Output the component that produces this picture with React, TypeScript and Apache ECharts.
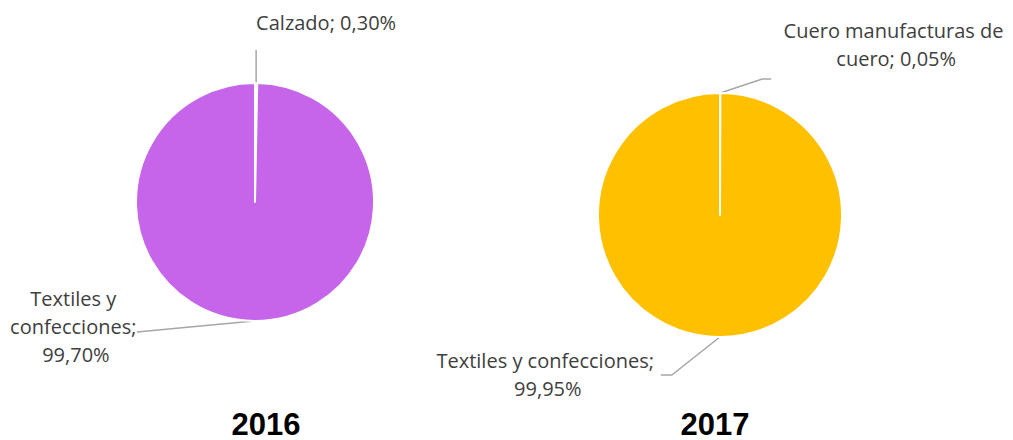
import React, { useEffect, useRef } from "react";
import * as echarts from "echarts";

// ---- data ----
const categories2016 = ["Calzado", "Textiles y confecciones"];
const values2016 = [0.3, 99.7];
const categories2017 = ["Cuero manufacturas de cuero", "Textiles y confecciones"];
const values2017 = [0.05, 99.95];
const years = ["2016", "2017"];

// ---- styling / layout (offsets from each slice's label anchor) ----
type Lay = { dx: number; dy: number; align: string; width: number; line: number[][] };
const lay2016: Lay[] = [
  { dx: 0, dy: -61, align: "left", width: 180, line: [[0, -33], [0, -33]] },
  { dx: -178, dy: 6, align: "center", width: 148, line: [[-117, 11], [-117, 11]] },
];
const lay2017: Lay[] = [
  { dx: 176, dy: -49, align: "center", width: 228, line: [[42, -14], [51, -14]] },
  { dx: -172, dy: 38, align: "center", width: 228, line: [[-48, 38], [-59, 38]] },
];
const pieColors = ["#C665E9", "#FFC000"];
const titleX = [266, 715];

const fmt = (v: number) => v.toFixed(2).replace(".", ",");

function makeSeries(
  cats: string[],
  vals: number[],
  color: string,
  center: number[],
  radius: number,
  lays: Lay[]
) {
  return {
    type: "pie",
    center,
    radius,
    startAngle: 90,
    clockwise: true,
    avoidLabelOverlap: false,
    silent: true,
    itemStyle: { color, borderColor: "#ffffff", borderWidth: 2 },
    label: {
      show: true,
      position: "outside",
      color: "#404040",
      fontFamily: "Open Sans",
      fontSize: 20,
      lineHeight: 28,
      overflow: "break",
      formatter: (p: any) => `${p.name}; ${fmt(p.value)}%`,
    },
    labelLine: {
      show: true,
      length: 10,
      length2: 10,
      lineStyle: { color: "#A6A6A6", width: 1.5 },
    },
    labelLayout: (params: any) => {
      const l = lays[params.dataIndex];
      const pts = params.labelLinePoints;
      if (!pts || !pts[0]) return {};
      const a = pts[0];
      return {
        x: a[0] + l.dx,
        y: a[1] + l.dy,
        align: l.align,
        verticalAlign: "middle",
        width: l.width,
        labelLinePoints: [
          [a[0], a[1]],
          [a[0] + l.line[0][0], a[1] + l.line[0][1]],
          [a[0] + l.line[1][0], a[1] + l.line[1][1]],
        ],
      };
    },
    data: cats.map((c, i) => ({
      name: c,
      value: vals[i],
      label: { width: lays[i].width, align: lays[i].align },
    })),
  };
}

export default function App() {
  const ref = useRef<HTMLDivElement>(null);
  useEffect(() => {
    if (!ref.current) return;
    const chart = echarts.init(ref.current, undefined, { renderer: "svg" });
    chart.setOption({
      animation: false,
      backgroundColor: "#ffffff",
      series: [
        makeSeries(categories2016, values2016, pieColors[0], [255, 202], 119, lay2016),
        makeSeries(categories2017, values2017, pieColors[1], [720, 215], 122, lay2017),
      ],
      graphic: years.map((y, i) => ({
        type: "text",
        x: titleX[i],
        y: 424,
        style: {
          text: y,
          fill: "#000000",
          font: "bold 31px 'Liberation Sans'",
          align: "center",
          verticalAlign: "middle",
        },
      })),
    });
    return () => chart.dispose();
  }, []);
  return (
    <div
      ref={ref}
      style={{ position: "fixed", left: 0, top: 0, width: 1013, height: 440, background: "#fff" }}
    />
  );
}
